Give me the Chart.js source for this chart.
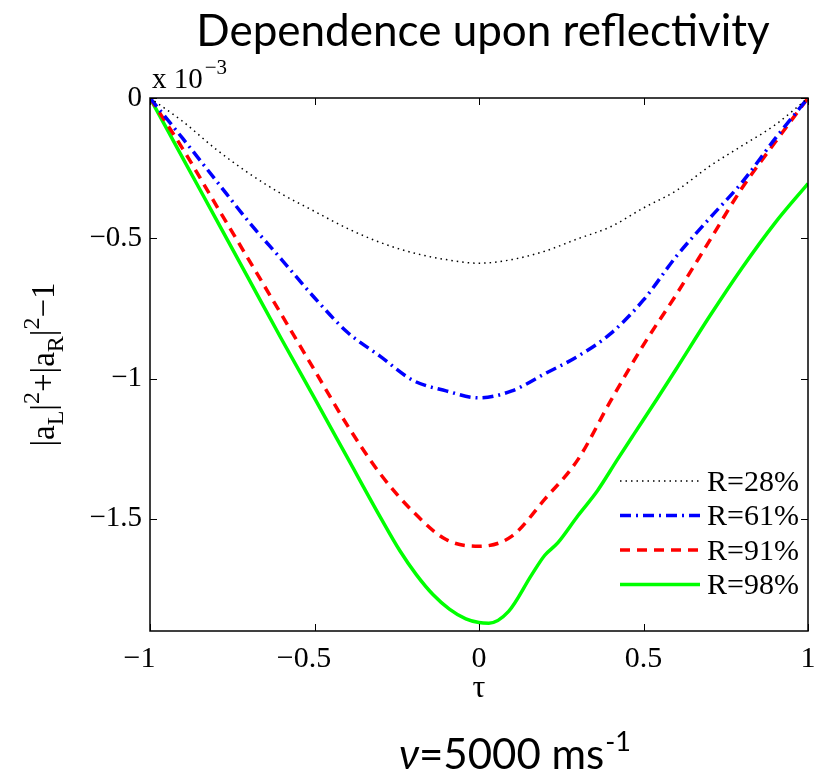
<!DOCTYPE html>
<html>
<head>
<meta charset="utf-8">
<script src="https://cdn.jsdelivr.net/npm/chart.js@4"></script>
<style>
  html, body { margin: 0; padding: 0; background: #fff; }
  #wrap { width: 818px; height: 778px; }
</style>
</head>
<body>
<div id="wrap"><canvas id="myChart" width="818" height="778"></canvas></div>
<script>
// tau positions for each curve
var tau = [-1, -0.9, -0.8, -0.7, -0.6, -0.5, -0.4, -0.3, -0.2, -0.1, 0, 0.1, 0.2, 0.3, 0.4, 0.5, 0.6, 0.7, 0.8, 0.9, 1];

// values are in units of 1e-3
var r28 = [0, -0.084, -0.182, -0.268, -0.342, -0.404, -0.465, -0.515, -0.552, -0.576, -0.589, -0.576, -0.546, -0.502, -0.459, -0.392, -0.33, -0.244, -0.17, -0.096, 0];
var r61 = [0, -0.145, -0.293, -0.441, -0.576, -0.712, -0.835, -0.921, -1.007, -1.044, -1.069, -1.044, -0.983, -0.921, -0.84, -0.72, -0.564, -0.43, -0.30, -0.145, 0];
var r91 = [0, -0.182, -0.38, -0.576, -0.773, -0.97, -1.167, -1.34, -1.475, -1.574, -1.598, -1.562, -1.43, -1.29, -1.08, -0.88, -0.70, -0.51, -0.32, -0.158, 0];

// the R=98% curve has a sharper minimum, so it gets its own x positions
var tau98 = [-1, -0.9, -0.8, -0.7, -0.6, -0.5, -0.4, -0.3, -0.24, -0.19, -0.14, -0.09, -0.04, 0, 0.03, 0.09, 0.16, 0.2, 0.24, 0.3, 0.36, 0.42, 0.47, 0.54, 0.6, 0.7, 0.8, 0.9, 1];
var r98 = [0, -0.215, -0.43, -0.645, -0.86, -1.07, -1.282, -1.494, -1.615, -1.70, -1.77, -1.822, -1.857, -1.870, -1.872, -1.83, -1.70, -1.63, -1.585, -1.49, -1.40, -1.29, -1.20, -1.075, -0.965, -0.78, -0.605, -0.445, -0.305];

var seriesNames = ["R=28%", "R=61%", "R=91%", "R=98%"];
var xTicks = [-1, -0.5, 0, 0.5, 1];
var yTicks = [-1.5, -1, -0.5, 0];

function pairs(xs, ys) {
    return xs.map((x, i) => ({ x: x, y: ys[i] }));
}

// MATLAB style minus sign
function fmt(v) {
    return String(v).replace("-", "\u2212");
}
// MATLAB centres negative x labels a bit to the left, a trailing space does the same
function fmtX(v) {
    return v < 0 ? fmt(v) + "\u2002\u2009" : fmt(v);
}

var serif = "'Liberation Serif', 'DejaVu Serif', serif";
var sans = "Lato, 'Open Sans', sans-serif";

// Draws the box, the inward ticks, the legend and all the extra texts
const decorations = {
    id: "decorations",
    afterDraw(chart) {
        const ctx = chart.ctx;
        const a = chart.chartArea;
        const xs = chart.scales.x;
        const ys = chart.scales.y;
        ctx.save();

        // box
        ctx.strokeStyle = "#000";
        ctx.lineWidth = 1.5;
        ctx.strokeRect(a.left, a.top, a.right - a.left, a.bottom - a.top);

        // inward ticks on all four sides
        ctx.lineWidth = 1;
        ctx.beginPath();
        xTicks.forEach(v => {
            const px = Math.round(xs.getPixelForValue(v)) + 0.5;
            ctx.moveTo(px, a.bottom); ctx.lineTo(px, a.bottom - 7);
            ctx.moveTo(px, a.top); ctx.lineTo(px, a.top + 7);
        });
        yTicks.forEach(v => {
            const py = Math.round(ys.getPixelForValue(v)) + 0.5;
            ctx.moveTo(a.left, py); ctx.lineTo(a.left + 7, py);
            ctx.moveTo(a.right, py); ctx.lineTo(a.right - 7, py);
        });
        ctx.stroke();

        // legend inside the plot, bottom right
        ctx.font = "30px " + serif;
        ctx.textBaseline = "middle";
        ctx.textAlign = "left";
        chart.data.datasets.forEach((ds, i) => {
            const y = a.bottom - 150 + i * 34.5;
            const x0 = a.right - 188;
            ctx.strokeStyle = ds.borderColor;
            ctx.lineWidth = ds.borderWidth;
            ctx.setLineDash(ds.borderDash || []);
            ctx.beginPath();
            ctx.moveTo(x0, y); ctx.lineTo(x0 + 80, y);
            ctx.stroke();
            ctx.setLineDash([]);
            ctx.fillStyle = "#000";
            ctx.fillText(ds.label, x0 + 87, y + 2);
        });

        // exponent above the y axis
        ctx.textBaseline = "alphabetic";
        ctx.font = "29px " + serif;
        ctx.fillText("x 10", a.left + 2, a.top - 10);
        const w10 = ctx.measureText("x 10").width;
        ctx.font = "21px " + serif;
        ctx.fillText("\u22123", a.left + 4 + w10, a.top - 24);

        // y axis title with sub- and superscripts
        const parts = [
            ["|a", 0], ["L", 1], ["|", 0], ["2", -1], ["+|a", 0], ["R", 1], ["|", 0], ["2", -1], ["\u22121", 0]
        ];
        const fontFor = s => (s === 0 ? "33px " : "24px ") + serif;
        let total = 0;
        parts.forEach(p => { ctx.font = fontFor(p[1]); total += ctx.measureText(p[0]).width; });
        ctx.translate(54, (a.top + a.bottom) / 2);
        ctx.rotate(-Math.PI / 2);
        let cx = -total / 2;
        parts.forEach(p => {
            ctx.font = fontFor(p[1]);
            const dy = p[1] === 1 ? 9 : (p[1] === -1 ? -15 : 0);
            ctx.fillText(p[0], cx, dy);
            cx += ctx.measureText(p[0]).width;
        });
        ctx.setTransform(1, 0, 0, 1, 0, 0);

        // x axis title
        ctx.textAlign = "center";
        ctx.font = "32px " + serif;
        ctx.fillText("\u03c4", (a.left + a.right) / 2, a.bottom + 66);

        // title on top
        ctx.font = "44px " + sans;
        ctx.fillText("Dependence upon reflectivity", 483, 46);

        // velocity note at the bottom
        ctx.textAlign = "left";
        ctx.font = "italic 42px " + sans;
        let bx = 399;
        ctx.fillText("\u03bd", bx, 769);
        bx += ctx.measureText("\u03bd").width;
        ctx.font = "42px " + sans;
        ctx.fillText("=5000 ms", bx, 769);
        bx += ctx.measureText("=5000 ms").width;
        ctx.font = "27px " + sans;
        ctx.fillText("-1", bx + 1, 751);

        ctx.restore();
    }
};

new Chart("myChart", {
    type: "line",
    data: {
        datasets: [
            { label: seriesNames[0], data: pairs(tau, r28), borderColor: "#000000", borderWidth: 1.5, borderDash: [1.5, 4] },
            { label: seriesNames[1], data: pairs(tau, r61), borderColor: "#0000ff", borderWidth: 3.5, borderDash: [11, 5, 2, 5] },
            { label: seriesNames[2], data: pairs(tau, r91), borderColor: "#ff0000", borderWidth: 3.5, borderDash: [10, 7] },
            { label: seriesNames[3], data: pairs(tau98, r98), borderColor: "#00ff00", borderWidth: 3.5 }
        ]
    },
    options: {
        responsive: false,
        animation: false,
        events: [],
        layout: { padding: { left: 0, top: 98, right: 10, bottom: 87 } },
        elements: {
            point: { radius: 0 },
            line: { fill: false, cubicInterpolationMode: "monotone" }
        },
        plugins: {
            legend: { display: false },
            title: { display: false },
            tooltip: { enabled: false }
        },
        scales: {
            x: {
                type: "linear",
                min: -1,
                max: 1,
                afterBuildTicks: s => { s.ticks = xTicks.map(v => ({ value: v })); },
                // fixed height, and no extra room for the end labels
                afterFit: s => { s.height = 60; s.paddingLeft = 0; s.paddingRight = 0; },
                grid: { display: false, drawTicks: false },
                border: { display: false },
                ticks: {
                    callback: fmtX,
                    color: "#000",
                    font: { family: serif, size: 30 },
                    padding: 10,
                    maxRotation: 0,
                    autoSkip: false
                }
            },
            y: {
                type: "linear",
                min: -1.9,
                max: 0,
                afterBuildTicks: s => { s.ticks = yTicks.map(v => ({ value: v })); },
                afterFit: s => { s.width = 150; s.paddingTop = 0; s.paddingBottom = 0; },
                grid: { display: false, drawTicks: false },
                border: { display: false },
                ticks: {
                    callback: fmt,
                    color: "#000",
                    font: { family: serif, size: 29 },
                    padding: 8,
                    autoSkip: false
                }
            }
        }
    },
    plugins: [decorations]
});
</script>
</body>
</html>
